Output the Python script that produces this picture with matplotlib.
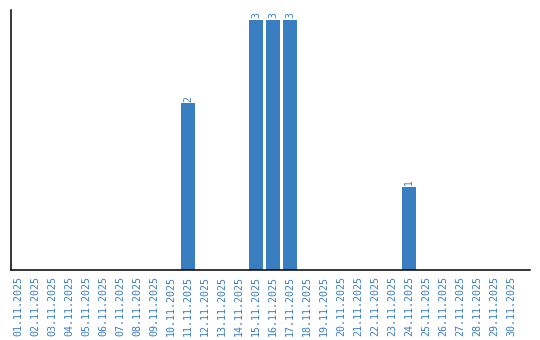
import matplotlib
matplotlib.use("Agg")
import matplotlib.pyplot as plt

# daily counts for November 2025
days = ["%02d.11.2025" % d for d in range(1, 31)]
counts = [0, 0, 0, 0, 0, 0, 0, 0, 0, 0,
          2, 0, 0, 0, 3, 3, 3, 0, 0, 0,
          0, 0, 0, 1, 0, 0, 0, 0, 0, 0]

blue = "#3a7ec2"

fig = plt.figure(figsize=(5.4, 3.4), dpi=100)
ax = fig.add_axes([11/540, 70/340, 519/540, 260/340])

x = list(range(len(days)))
ax.bar(x, counts, width=0.82, color=blue)
for xi, c in zip(x, counts):
    if c > 0:
        ax.text(xi, c + 0.02, str(c), rotation=90, ha="center", va="bottom",
                color=blue, fontsize=7, family="DejaVu Sans Mono")

ax.set_xlim(-0.41, 30.1)
ax.set_ylim(0, 3.12)
ax.set_xticks(x)
ax.set_xticklabels(days, rotation=90, family="DejaVu Sans Mono",
                   fontsize=7.2, color=blue)
ax.tick_params(axis="x", length=0, pad=4)
ax.set_yticks([])
for s in ["top", "right"]:
    ax.spines[s].set_visible(False)
ax.spines["left"].set_linewidth(1.1)
ax.spines["bottom"].set_linewidth(1.1)

fig.savefig("out.png", dpi=100)
